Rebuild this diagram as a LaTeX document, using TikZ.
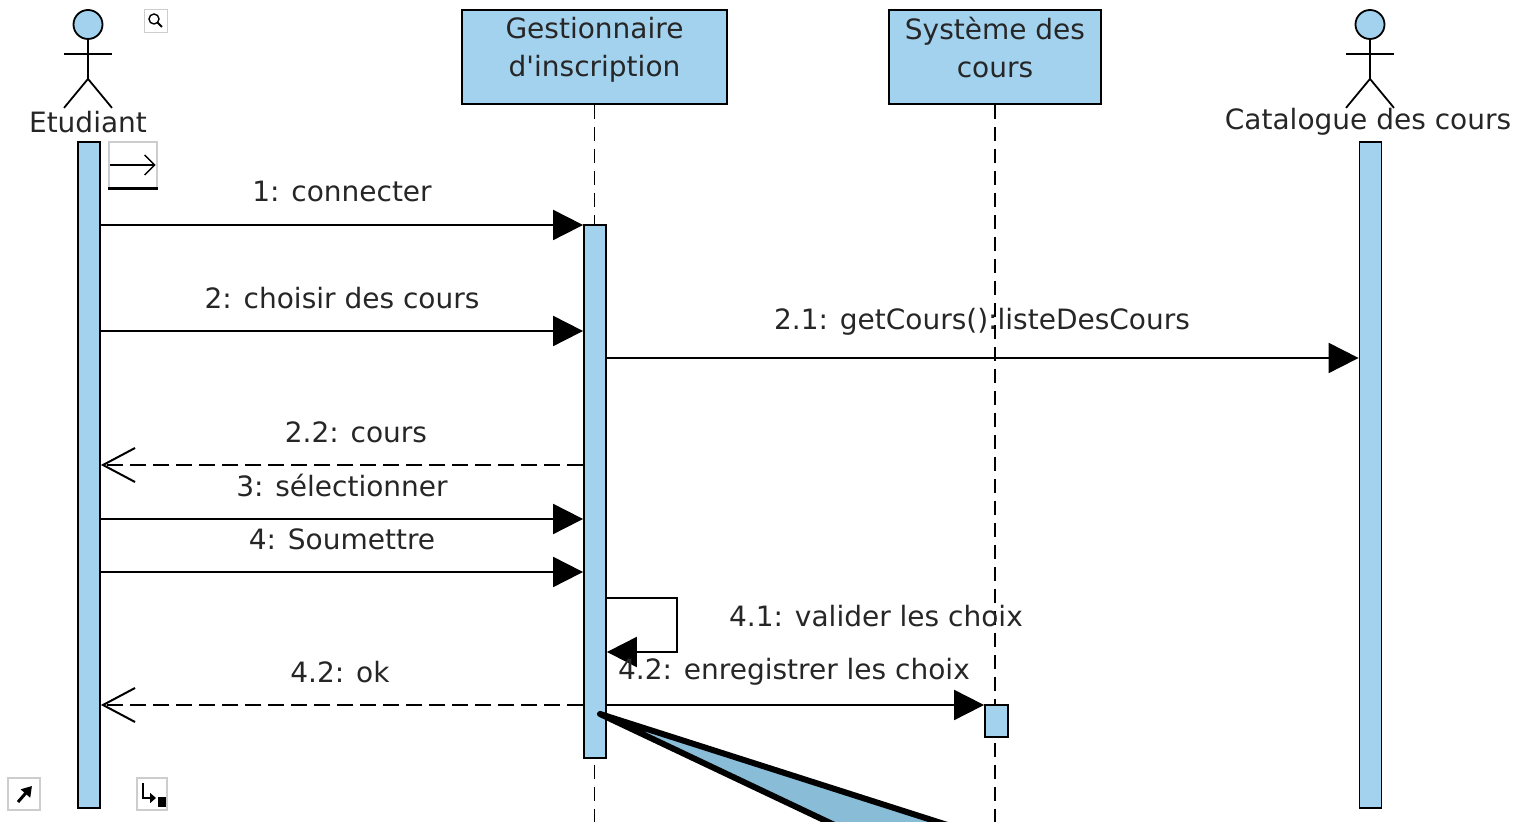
\documentclass[tikz,border=0pt]{standalone}
\usepackage{fontspec}
\setmainfont{DejaVu Sans}
\usetikzlibrary{arrows.meta}
\definecolor{bleuUML}{RGB}{163,210,238}
\definecolor{bleuBulle}{RGB}{137,188,214}
\definecolor{grisIcone}{RGB}{205,205,205}
\begin{document}
\begin{tikzpicture}[x=0.5pt,y=-0.5pt,
    texte/.style={font=\fontsize{14}{19}\selectfont, text=black!85, inner sep=0pt},
    boite/.style={draw, line width=1pt, fill=bleuUML, align=center, text depth=10pt, font=\fontsize{14}{19}\selectfont, text=black!85},
    barre/.style={draw, line width=0.9pt, fill=bleuUML, minimum width=11pt, inner sep=0pt},
    vie/.style={line width=0.9pt, dash pattern=on 7pt off 4pt},
    synch/.style={line width=1pt, -{Triangle[length=15pt,width=15pt]}},
    retour/.style={line width=1pt, dash pattern=on 8pt off 3.5pt, -{Straight Barb[length=16pt,width=17pt]}},
    icone/.style={draw=grisIcone, line width=0.6pt, inner sep=0pt}]
\useasboundingbox (0,0) rectangle (1528,822);
% objets
\node[boite, minimum width=132.5pt, minimum height=47pt] (gesBoite) at (594.5,57) {Gestionnaire\\d\textquotesingle inscription};
\node[boite, minimum width=106pt, minimum height=47pt] (sysBoite) at (995,57) {Système des\\cours};
\draw[vie] (gesBoite.south) -- (gesBoite.south |- 0,822);
\draw[vie] (sysBoite.south) -- (sysBoite.south |- 0,822);
% acteurs
\foreach \nom/\x in {etu/88,cat/1370}{
    \node[draw, circle, line width=0.9pt, fill=bleuUML, minimum size=14.5pt, inner sep=0pt] (tete\nom) at (\x,24.5) {};
    \draw[line width=0.9pt] (tete\nom.south) -- ++(0,39) coordinate (bassin\nom);
    \draw[line width=0.9pt] (tete\nom.south) ++(-24,14) -- ++(48,0);
    \draw[line width=0.9pt] (bassin\nom) ++(-24,29) -- (bassin\nom) -- ++(24,29);
}
\node[texte] (etuNom) at (88,122) {Etudiant};
\node[texte] (catNom) at (1368,122) {Catalogue des cours};
% barres d'activation
\node[barre, minimum height=333pt] (etuBarre) at (89,475) {};
\node[barre, minimum height=333pt] (catBarre) at (1370.5,475) {};
\node[barre, minimum height=266.5pt] (gesBarre) at (595,491.5) {};
\node[barre, minimum width=11.5pt, minimum height=16pt] (sysBarre) at (996.5,721) {};
% messages
\draw[synch] (etuBarre.east |- 0,225) -- (gesBarre.west |- 0,225);
\node[texte] (m1) at (342,192) {1: connecter};
\draw[synch] (etuBarre.east |- 0,331) -- (gesBarre.west |- 0,331);
\node[texte] (m2) at (342,298) {2: choisir des cours};
\draw[synch] (gesBarre.east |- 0,358) -- (catBarre.west |- 0,358);
\node[texte] (m21) at (982,322) {2.1: getCours():listeDesCours};
\draw[retour] (gesBarre.west |- 0,465) -- (etuBarre.east |- 0,465);
\node[texte] (m22) at (356,432) {2.2: cours};
\draw[synch] (etuBarre.east |- 0,519) -- (gesBarre.west |- 0,519);
\node[texte] (m3) at (342,486) {3: sélectionner};
\draw[synch] (etuBarre.east |- 0,572) -- (gesBarre.west |- 0,572);
\node[texte] (m4) at (342,539) {4: Soumettre};
\draw[synch] (gesBarre.east |- 0,598) -- ++(70,0) -- ++(0,54) -- (gesBarre.east |- 0,652);
\node[texte] (m41) at (876,616) {4.1: valider les choix};
\draw[synch] (gesBarre.east |- 0,705) -- (sysBarre.west |- 0,705);
\node[texte] (m42a) at (794,672) {4.2: enregistrer les choix};
\draw[retour] (gesBarre.west |- 0,705) -- (etuBarre.east |- 0,705);
\node[texte] (m42b) at (340,672) {4.2: ok};
% icones
\node[icone, minimum size=11.5pt] (loupe) at (156,21) {};
\draw[line width=0.7pt] ([shift={(-2,-2)}]loupe.center) circle[radius=2.5pt];
\draw[line width=1pt] ([shift={(1.5,1.5)}]loupe.center) -- ([shift={(6,6)}]loupe.center);
\node[icone, minimum width=24pt, minimum height=23pt] (iconeFleche) at (133,165) {};
\draw[line width=0.7pt, -{Straight Barb[length=5pt,width=10pt]}] ([xshift=1pt]iconeFleche.west) -- ([xshift=-1pt]iconeFleche.east);
\draw[line width=1.2pt] (iconeFleche.south west) -- (iconeFleche.south east);
\node[icone, minimum size=16pt] (iconeCoin) at (24,794) {};
\draw[line width=1.5pt, -{Triangle[length=5pt,width=6pt]}] ([shift={(-6,8)}]iconeCoin.center) -- ([shift={(8,-8)}]iconeCoin.center);
\node[icone, minimum width=15pt, minimum height=16pt] (iconeRetour) at (152,794) {};
\draw[line width=1.2pt, -{Triangle[length=3pt,width=5pt]}] ([shift={(-9,-11)}]iconeRetour.center) |- ([shift={(4,4)}]iconeRetour.center);
\fill ([shift={(6,3)}]iconeRetour.center) rectangle ([shift={(14,13)}]iconeRetour.center);
% bulle
\filldraw[fill=bleuBulle, line width=3pt, line join=round] (963,830) -- (600,714) -- (845,830);
\end{tikzpicture}
\end{document}
